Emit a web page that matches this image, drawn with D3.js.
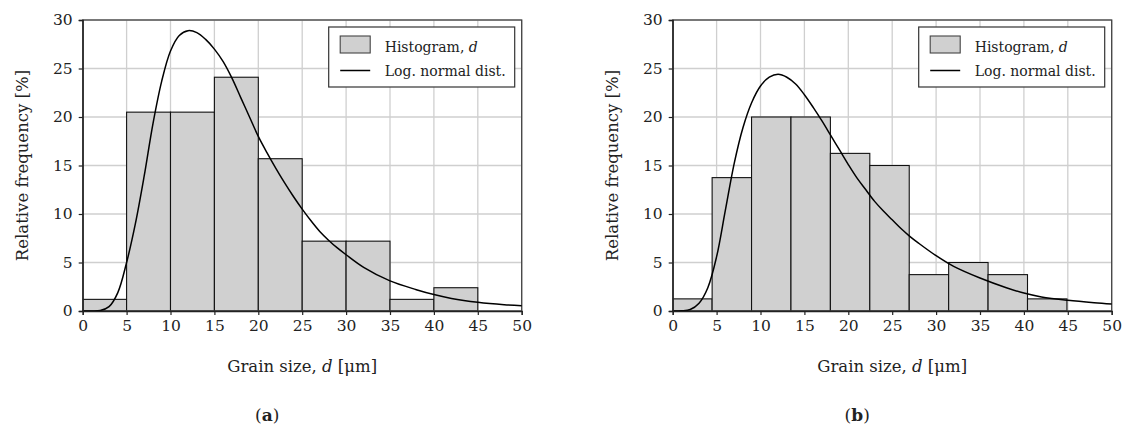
<!DOCTYPE html>
<html lang="en">
<head>
<meta charset="UTF-8">
<script src="https://d3js.org/d3.v7.min.js"></script>
<title>Grain size histograms</title>
<style>
	body { margin: 0; background: #fff; }
	text { font-family: "DejaVu Serif", "Liberation Serif", serif; fill: #222; }
</style>
</head>
<body>
<svg width="1126" height="430"></svg>
<script>
// panel (a): bins of 5 um
var edgesA = [0, 5, 10, 15, 20, 25, 30, 35, 40, 45, 50];
var freqA = [1.2, 20.5, 20.5, 24.1, 15.7, 7.2, 7.2, 1.2, 2.4, 0];
// log-normal fit (x, %)
var curveXA = [0, 1, 2, 3, 4, 5, 6, 7, 8, 9, 10, 11, 12, 13, 14, 15, 16, 17, 18, 19, 20, 21, 22, 23, 24, 25, 26, 27, 28, 29, 30, 32, 35, 38, 40, 42, 45, 48, 50];
var curveYA = [0, 0, 0.05, 0.45, 1.9, 5.0, 9.0, 13.9, 19.3, 23.7, 26.8, 28.4, 28.9, 28.7, 28.0, 27.0, 25.7, 24.0, 22.0, 20.0, 18.0, 16.3, 14.7, 13.2, 11.8, 10.5, 9.3, 8.2, 7.3, 6.5, 5.8, 4.5, 3.1, 2.2, 1.7, 1.3, 0.9, 0.65, 0.55];

// panel (b): bins of ~4.49 um
var edgesB = [0, 4.49, 8.98, 13.47, 17.96, 22.45, 26.94, 31.43, 35.92, 40.41, 44.9];
var freqB = [1.25, 13.75, 20, 20, 16.25, 15, 3.75, 5, 3.75, 1.25];
var curveXB = [0, 1, 2, 3, 4, 5, 6, 7, 8, 9, 10, 11, 12, 13, 14, 15, 16, 17, 18, 19, 20, 21, 22, 23, 24, 25, 26, 27, 28, 30, 32, 35, 38, 40, 42, 45, 48, 50];
var curveYB = [0, 0.02, 0.15, 0.8, 2.4, 5.6, 10.4, 15.2, 18.9, 21.5, 23.2, 24.1, 24.4, 24.1, 23.4, 22.3, 21.0, 19.6, 18.1, 16.6, 15.1, 13.7, 12.5, 11.3, 10.3, 9.4, 8.5, 7.7, 7.0, 5.7, 4.6, 3.4, 2.4, 1.85, 1.45, 1.1, 0.85, 0.72];

var xTicks = [0, 5, 10, 15, 20, 25, 30, 35, 40, 45, 50];
var yTicks = [0, 5, 10, 15, 20, 25, 30];

var svg = d3.select('svg');
svg.append('rect').attr('width', 1126).attr('height', 430).attr('fill', '#fff');

function panel(left, edges, freq, cx, cy, tag) {
	var top = 20, w = 439, h = 291;
	var x = d3.scaleLinear().domain([0, 50]).range([left, left + w]);
	var y = d3.scaleLinear().domain([0, 30]).range([top + h, top]);
	var g = svg.append('g');

	// grid
	g.selectAll('.gx').data(xTicks).enter().append('line')
		.attr('x1', function(d){ return x(d); }).attr('x2', function(d){ return x(d); })
		.attr('y1', top).attr('y2', top + h)
		.attr('stroke', '#cfcfcf').attr('stroke-width', 1.3);
	g.selectAll('.gy').data(yTicks).enter().append('line')
		.attr('y1', function(d){ return y(d); }).attr('y2', function(d){ return y(d); })
		.attr('x1', left).attr('x2', left + w)
		.attr('stroke', '#cfcfcf').attr('stroke-width', 1.3);

	// bars
	g.selectAll('.bar').data(freq).enter().append('rect')
		.attr('x', function(d, i){ return x(edges[i]); })
		.attr('width', function(d, i){ return x(edges[i + 1]) - x(edges[i]); })
		.attr('y', function(d){ return y(d); })
		.attr('height', function(d){ return y(0) - y(d); })
		.attr('fill', '#d0d0d0').attr('stroke', '#111').attr('stroke-width', 1.1);

	// frame
	g.append('rect').attr('x', left).attr('y', top).attr('width', w).attr('height', h)
		.attr('fill', 'none').attr('stroke', '#444').attr('stroke-width', 1.3);

	// curve
	var pts = cx.map(function(d, i){ return [d, cy[i]]; });
	g.append('path').datum(pts)
		.attr('d', d3.line().x(function(d){ return x(d[0]); }).y(function(d){ return y(d[1]); }).curve(d3.curveCatmullRom.alpha(0.5)))
		.attr('fill', 'none').attr('stroke', '#000').attr('stroke-width', 1.5);

	// axes
	var ax = g.append('g').attr('transform', 'translate(0,' + (top + h) + ')')
		.call(d3.axisBottom(x).tickValues(xTicks).tickSize(4).tickPadding(5).tickFormat(d3.format('d')));
	var ay = g.append('g').attr('transform', 'translate(' + left + ',0)')
		.call(d3.axisLeft(y).tickValues(yTicks).tickSize(4).tickPadding(6).tickFormat(d3.format('d')));
	[ax, ay].forEach(function(a){
		a.attr('font-family', null);
		a.select('.domain').attr('stroke', '#222').attr('stroke-width', 1.3);
		a.selectAll('.tick line').attr('stroke', '#222').attr('stroke-width', 1.2);
		a.selectAll('text').attr('font-size', 15.5).attr('fill', '#222');
	});

	// axis titles
	g.append('text')
		.attr('transform', 'translate(' + (left - 60) + ',' + (top + h / 2) + ') rotate(-90)')
		.attr('text-anchor', 'middle').attr('dy', '0.35em').attr('font-size', 16.5)
		.text('Relative frequency [%]');
	var xt = g.append('text').attr('x', left + w / 2).attr('y', 372)
		.attr('text-anchor', 'middle').attr('font-size', 16.5);
	xt.append('tspan').text('Grain size, ');
	xt.append('tspan').attr('font-style', 'italic').text('d');
	xt.append('tspan').text(' [\u03bcm]');

	var lab = g.append('text').attr('x', left + w / 2 - 35).attr('y', 421)
		.attr('text-anchor', 'middle').attr('font-size', 17);
	lab.append('tspan').text('(');
	lab.append('tspan').attr('font-weight', 'bold').text(tag);
	lab.append('tspan').text(')');

	// legend
	var lx = left + w - 193, ly = 27;
	var lg = g.append('g');
	lg.append('rect').attr('x', lx).attr('y', ly).attr('width', 186).attr('height', 60)
		.attr('fill', '#fff').attr('stroke', '#333').attr('stroke-width', 1.2);
	lg.append('rect').attr('x', lx + 11.5).attr('y', ly + 9).attr('width', 30).attr('height', 17)
		.attr('fill', '#d0d0d0').attr('stroke', '#444').attr('stroke-width', 1.1);
	lg.append('line').attr('x1', lx + 11.5).attr('x2', lx + 41.5).attr('y1', ly + 43.5).attr('y2', ly + 43.5)
		.attr('stroke', '#000').attr('stroke-width', 1.5);
	var t1 = lg.append('text').attr('x', lx + 56).attr('y', ly + 24.5).attr('font-size', 14);
	t1.append('tspan').text('Histogram, ');
	t1.append('tspan').attr('font-style', 'italic').text('d');
	lg.append('text').attr('x', lx + 56).attr('y', ly + 49).attr('font-size', 14).text('Log. normal dist.');
}

panel(82.7, edgesA, freqA, curveXA, curveYA, 'a');
panel(672.7, edgesB, freqB, curveXB, curveYB, 'b');
</script>
</body>
</html>
